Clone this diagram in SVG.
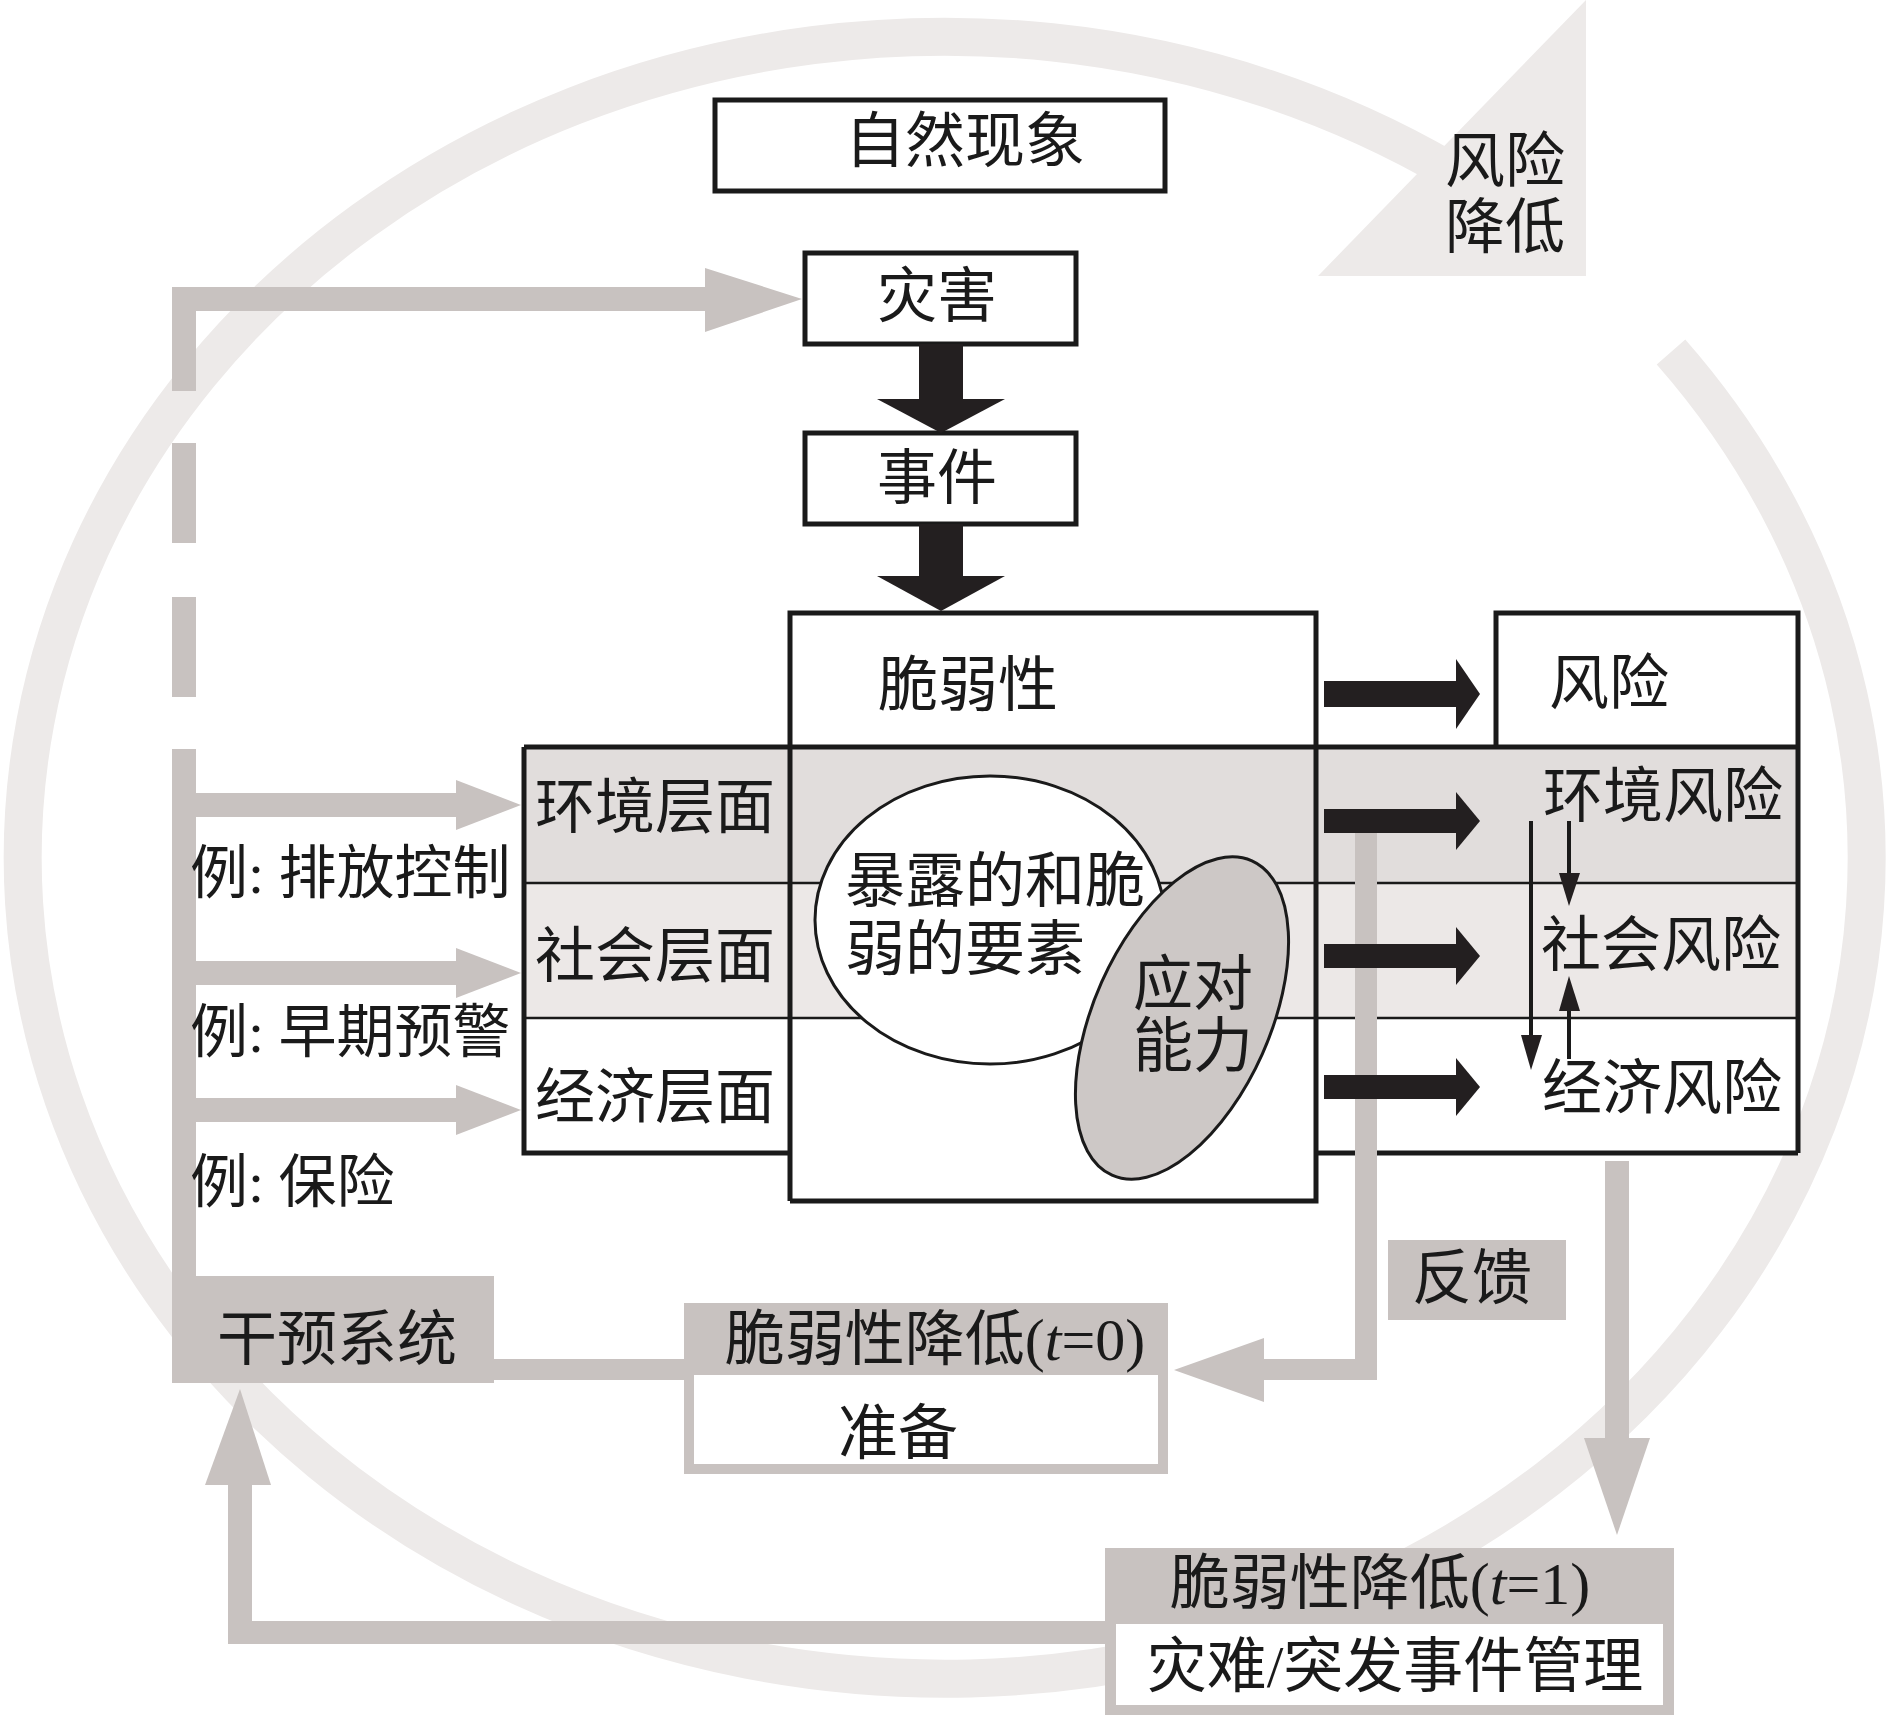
<svg xmlns="http://www.w3.org/2000/svg" width="1890" height="1719" viewBox="0 0 1890 1719">
<defs>
<style>
.t{font-family:"Liberation Serif","Noto Sans CJK SC",serif;font-size:60px;fill:#1a1a1a;text-anchor:middle}
.ts{text-anchor:start}
.ex{font-size:58px}
.g{fill:#c8c2c0}
.bk{fill:#231f20}
.frame{fill:none;stroke:#1a1a1a;stroke-width:5}
.thin{stroke:#1a1a1a;stroke-width:2.5}
.sa{stroke:#1a1a1a;stroke-width:4;fill:none}
</style>
</defs>
<rect width="1890" height="1719" fill="#ffffff"/>

<g id="cycle">
<path d="M 1671 352 A 922 821 0 1 1 1450 171" fill="none" stroke="#edeae9" stroke-width="38"/>
<polygon points="1586,0 1318,276 1586,276" fill="#edeae9"/>
<text class="t" x="1505" y="182">风险</text>
<text class="t" x="1505" y="248">降低</text>
</g>

<g id="natural">
<rect x="715" y="100" width="450" height="91" fill="#fff" class="frame"/>
<text class="t" x="965" y="162">自然现象</text>
</g>

<g id="hazard">
<rect x="805" y="253" width="271" height="91" fill="#fff" class="frame"/>
<text class="t" x="937" y="317">灾害</text>
</g>

<g id="event">
<rect x="805" y="433" width="271" height="91" fill="#fff" class="frame"/>
<text class="t" x="937" y="499">事件</text>
</g>

<g id="band">
<rect x="790" y="613" width="526" height="588" fill="#fff"/>
<rect x="1496" y="613" width="302" height="134" fill="#fff"/>
<rect x="524" y="747" width="1274" height="136" fill="#e1dddc"/>
<rect x="524" y="883" width="1274" height="135" fill="#ece8e7"/>
<rect x="524" y="1018" width="1274" height="135" fill="#ffffff"/>
<line x1="524" y1="883" x2="1798" y2="883" class="thin"/>
<line x1="524" y1="1018" x2="1798" y2="1018" class="thin"/>
</g>

<g id="vulnerability">
<text class="t" x="968" y="706">脆弱性</text>
</g>

<g id="layers">
<text class="t" x="655" y="828">环境层面</text>
<text class="t" x="655" y="977">社会层面</text>
<text class="t" x="655" y="1118">经济层面</text>
</g>

<g id="exposed">
<ellipse cx="990" cy="920" rx="175" ry="144" fill="#fff" stroke="#1a1a1a" stroke-width="3"/>
<text class="t ts" x="845" y="902">暴露的和脆</text>
<text class="t ts" x="845" y="970">弱的要素</text>
</g>

<g id="coping">
<ellipse cx="1182" cy="1018" rx="88" ry="172" transform="rotate(24 1182 1018)" fill="#cdc8c6" stroke="#1a1a1a" stroke-width="3"/>
<text class="t" x="1193" y="1005">应对</text>
<text class="t" x="1193" y="1067">能力</text>
</g>

<g id="risk">
<text class="t" x="1609" y="704">风险</text>
<text class="t" x="1663" y="817">环境风险</text>
<text class="t" x="1661" y="966">社会风险</text>
<text class="t" x="1662" y="1109">经济风险</text>
</g>

<g id="frames">
<polyline points="790,1201 790,613 1316,613 1316,1201 790,1201" class="frame"/>
<line x1="524" y1="747" x2="1798" y2="747" class="frame"/>
<polyline points="790,1153 524,1153 524,747" class="frame"/>
<line x1="1316" y1="1153" x2="1798" y2="1153" class="frame"/>
<polyline points="1496,747 1496,613 1798,613 1798,1153" class="frame"/>
</g>

<g id="intervention">
<rect x="172" y="1276" width="322" height="107" class="g"/>
<text class="t" x="337" y="1360">干预系统</text>
</g>

<g id="t0">
<rect x="684" y="1303" width="484" height="171" class="g"/>
<rect x="694" y="1375" width="464" height="89" fill="#fff"/>
<text class="t" x="935" y="1360">脆弱性降低(<tspan font-style="italic">t</tspan>=0)</text>
<text class="t" x="898" y="1454">准备</text>
</g>

<g id="feedback">
<rect x="1388" y="1240" width="178" height="80" class="g"/>
<text class="t" x="1472" y="1299">反馈</text>
</g>

<g id="t1">
<rect x="1105" y="1548" width="569" height="167" class="g"/>
<rect x="1116" y="1624" width="547" height="81" fill="#fff"/>
<text class="t" x="1380" y="1604">脆弱性降低(<tspan font-style="italic">t</tspan>=1)</text>
<text class="t" x="1395" y="1687">灾难/突发事件管理</text>
</g>

<g id="connectors">
<rect x="172" y="287" width="24" height="104" class="g"/>
<rect x="172" y="443" width="24" height="100" class="g"/>
<rect x="172" y="597" width="24" height="100" class="g"/>
<rect x="172" y="749" width="24" height="527" class="g"/>
<rect x="172" y="287" width="535" height="24" class="g"/>
<polygon points="705,268 802,299 705,332" class="g"/>
<rect x="196" y="793" width="264" height="24" class="g"/>
<polygon points="456,780 521,805 456,830" class="g"/>
<rect x="196" y="961" width="264" height="24" class="g"/>
<polygon points="456,948 521,973 456,998" class="g"/>
<rect x="196" y="1098" width="264" height="24" class="g"/>
<polygon points="456,1085 521,1110 456,1135" class="g"/>
<rect x="494" y="1359" width="190" height="21" class="g"/>
<rect x="1355" y="829" width="22" height="551" class="g"/>
<rect x="1262" y="1359" width="115" height="21" class="g"/>
<polygon points="1264,1338 1174,1370 1264,1402" class="g"/>
<rect x="1605" y="1161" width="24" height="279" class="g"/>
<polygon points="1584,1438 1650,1438 1617,1535" class="g"/>
<rect x="228" y="1621" width="877" height="23" class="g"/>
<rect x="228" y="1483" width="24" height="161" class="g"/>
<polygon points="205,1485 240,1389 271,1485" class="g"/>
<rect x="919" y="344" width="44" height="57" class="bk"/>
<polygon points="877,399 1005,399 941,433" class="bk"/>
<rect x="919" y="524" width="44" height="54" class="bk"/>
<polygon points="877,576 1005,576 941,611" class="bk"/>
<rect x="1324" y="681" width="134" height="26" class="bk"/>
<polygon points="1456,659 1480,694 1456,729" class="bk"/>
<rect x="1324" y="809" width="134" height="24" class="bk"/>
<polygon points="1456,792 1480,821 1456,850" class="bk"/>
<rect x="1324" y="944" width="134" height="24" class="bk"/>
<polygon points="1456,927 1480,956 1456,985" class="bk"/>
<rect x="1324" y="1075" width="134" height="24" class="bk"/>
<polygon points="1456,1058 1480,1087 1456,1116" class="bk"/>
<line x1="1531" y1="821" x2="1531" y2="1040" class="sa"/>
<polygon points="1521,1035 1542,1035 1531,1070" class="bk"/>
<line x1="1569" y1="821" x2="1569" y2="878" class="sa"/>
<polygon points="1559,873 1580,873 1569,906" class="bk"/>
<line x1="1569" y1="1059" x2="1569" y2="1006" class="sa"/>
<polygon points="1559,1011 1580,1011 1569,976" class="bk"/>
</g>

<g id="examples">
<text class="t ts ex" x="190" y="893">例: 排放控制</text>
<text class="t ts ex" x="190" y="1052">例: 早期预警</text>
<text class="t ts ex" x="190" y="1202">例: 保险</text>
</g>
</svg>
